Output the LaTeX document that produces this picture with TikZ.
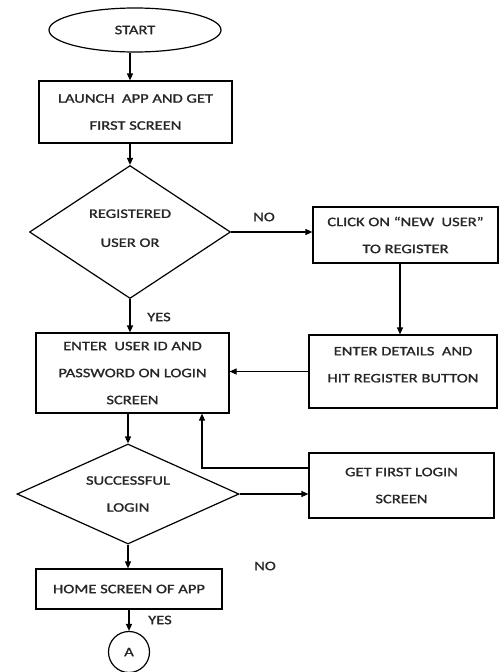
\documentclass[tikz,border=0pt]{standalone}
\usepackage{fontspec}
\setmainfont{Carlito}[FakeStretch=1.27, FakeBold=1.3]
\usetikzlibrary{shapes.geometric,arrows.meta}
% lines of a label set higher than the centre of their shape
\newcommand\liftlines[2]{\raisebox{#1}[\height][\depth]{\begin{tabular}{@{}c@{}}#2\end{tabular}}}
\tikzset{
  x=1pt, y=-1pt,
  every node/.style={font=\fontsize{13}{27}\selectfont, text=black!85},
  flowbox/.style={draw, line width=1.2pt, rectangle, inner sep=0pt, align=center},
  decision/.style={draw, line width=1.2pt, diamond, inner sep=0pt, align=center},
  arr/.style={line width=1.2pt, -{Triangle[length=7pt,width=6pt]}},
  tag/.style={inner sep=0pt}
}
\begin{document}
\begin{tikzpicture}
\useasboundingbox (0,0) rectangle (501,672);
% main column
\node[draw, line width=1.2pt, ellipse, minimum width=172pt, minimum height=44pt, inner sep=0pt] (start) at (135,30) {START};
\node[flowbox, minimum width=193pt, minimum height=62pt] (launch) at (135.5,112) {LAUNCH\ \ APP AND GET\\FIRST SCREEN};
\node[decision, aspect=1.5, minimum width=201pt, minimum height=133pt] (reg) at (130,232) {\liftlines{5pt}{REGISTERED\\[2pt]USER OR}};
\node[flowbox, minimum width=193pt, minimum height=80pt] (login) at (132.5,373) {ENTER\ \ USER ID AND\\PASSWORD ON LOGIN\\SCREEN};
\node[decision, aspect=2.2, minimum width=222pt, minimum height=100pt] (ok) at (128,494) {SUCCESSFUL\\LOGIN};
\node[flowbox, minimum width=186pt, minimum height=40pt] (home) at (129,589) {HOME SCREEN OF APP};
\node[draw, line width=1.2pt, circle, minimum size=41pt, inner sep=0pt] (conA) at (129,652) {A};
% right column
\node[flowbox, minimum width=185pt, minimum height=56pt] (newuser) at (405.5,235) {CLICK ON \textquotedblleft NEW\ \ USER\textquotedblright\\TO REGISTER};
\node[flowbox, minimum width=188pt, minimum height=73pt] (details) at (403,371.5) {\liftlines{8pt}{ENTER DETAILS\ \ AND\\HIT REGISTER BUTTON}};
\node[flowbox, minimum width=185pt, minimum height=65pt] (first) at (401.5,485.5) {GET FIRST LOGIN\\SCREEN};
% connector guides
\coordinate (colA) at (130,0);
\coordinate (colB) at (128,0);
\coordinate (colC) at (400,0);
\coordinate (back) at (202,468);
% connectors
\draw[arr] (start.south -| colA) -- (launch.north -| colA);
\draw[arr] (launch.south -| colA) -- (reg.north);
\draw[arr] (reg.east) -- (reg.east -| newuser.west);
\draw[arr] (newuser.south -| colC) -- (details.north -| colC);
\draw[arr] (details.west) -- (details.west -| login.east);
\draw[arr] (reg.south) -- (login.north -| reg.south);
\draw[arr] (login.south -| colB) -- (ok.north);
\draw[arr] (ok.east) -- (ok.east -| first.west);
\draw[arr] (first.west |- back) -- (back) -- (back |- login.south);
\draw[arr] (ok.south) -- (home.north -| ok.south);
\draw[arr] (home.south -| conA) -- (conA.north);
% branch labels
\node[tag] (no1) at (264,217) {NO};
\node[tag] (yes1) at (159,317) {YES};
\node[tag] (no2) at (265,566) {NO};
\node[tag] (yes2) at (160,620) {YES};
\end{tikzpicture}
\end{document}
